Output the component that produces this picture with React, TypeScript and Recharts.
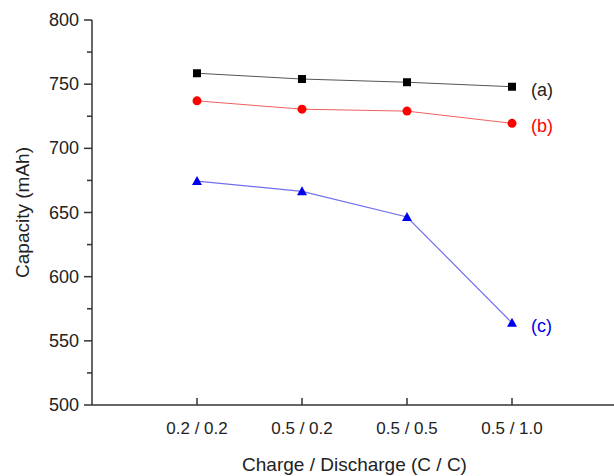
import { LineChart, Line, XAxis, YAxis, LabelList, Label } from 'recharts';

// rate categories (charge / discharge)
const rates = ['0.2 / 0.2', '0.5 / 0.2', '0.5 / 0.5', '0.5 / 1.0'];
const capA = [758.5, 754, 751.5, 748];
const capB = [737, 730.5, 729, 719.5];
const capC = [674.5, 666.5, 646.5, 564];
const seriesNames = ['(a)', '(b)', '(c)'];
const yTicks = [500, 525, 550, 575, 600, 625, 650, 675, 700, 725, 750, 775, 800];

const data = rates.map((r, i) => ({ pos: i + 1, rate: r, a: capA[i], b: capB[i], c: capC[i] }));

const FONT = '"Liberation Sans", Arial, sans-serif';
const AXIS_X = 92;
const AXIS_Y = 405;

// y ticks: long ones with labels every 50, short minor ones in between
const YTick = ({ y, payload }: any) => {
  const major = payload.value % 50 === 0;
  return (
    <g>
      <line x1={AXIS_X - (major ? 8 : 5)} x2={AXIS_X} y1={y} y2={y} stroke="#333" strokeWidth={1.5} />
      {major && (
        <text x={AXIS_X - 13} y={y} textAnchor="end" dominantBaseline="central" fontSize={18} fill="#222" fontFamily={FONT}>
          {payload.value}
        </text>
      )}
    </g>
  );
};

// x ticks point up into the plot
const XTick = ({ x, payload }: any) => (
  <g>
    <line x1={x} x2={x} y1={AXIS_Y} y2={AXIS_Y - 7} stroke="#333" strokeWidth={1.5} />
    <text x={x} y={AXIS_Y + 23} textAnchor="middle" dominantBaseline="central" fontSize={17} fill="#222" fontFamily={FONT}>
      {rates[payload.value - 1]}
    </text>
  </g>
);

const Triangle = ({ cx, cy }: any) => (
  <polygon points={`${cx},${cy - 5} ${cx - 5},${cy + 4} ${cx + 5},${cy + 4}`} fill="#0000ee" />
);
const Square = ({ cx, cy }: any) => <rect x={cx - 4} y={cy - 4} width={8} height={8} fill="#000" />;
const Dot = ({ cx, cy }: any) => <circle cx={cx} cy={cy} r={4.5} fill="#ff0000" />;

// series name next to the last point
const endLabel = (name: string, color: string) => (props: any) => {
  if (props.index !== rates.length - 1) return null;
  return (
    <text x={props.x + 19} y={props.y + 3} dominantBaseline="central" fontSize={18} fill={color} fontFamily={FONT}>
      {name}
    </text>
  );
};

export default function App() {
  return (
    <div style={{ position: 'absolute', left: 0, top: 0, width: 614, height: 476, overflow: 'hidden', background: '#fff' }}>
      <LineChart width={617} height={476} data={data} margin={{ top: 20, right: 0, left: 12, bottom: 0 }}>
        <XAxis
          dataKey="pos"
          type="number"
          domain={[0, 5]}
          ticks={[1, 2, 3, 4]}
          tick={<XTick />}
          tickLine={false}
          axisLine={{ stroke: '#333', strokeWidth: 1.5 }}
          height={71}
        >
          <Label value="Charge / Discharge (C / C)" position="insideBottom" offset={5} fontSize={19} fill="#222" fontFamily={FONT} />
        </XAxis>
        <XAxis
          xAxisId="top"
          orientation="top"
          dataKey="pos"
          type="number"
          domain={[0, 5]}
          tick={false}
          tickLine={false}
          axisLine={{ stroke: '#333', strokeWidth: 1.5 }}
          height={0}
        />
        <YAxis
          type="number"
          domain={[500, 800]}
          ticks={yTicks}
          interval={0}
          tick={<YTick />}
          tickLine={false}
          axisLine={{ stroke: '#333', strokeWidth: 1.5 }}
          width={80}
        >
          <Label value="Capacity (mAh)" angle={-90} position="insideLeft" offset={10} fontSize={19} fill="#222" fontFamily={FONT} style={{ textAnchor: 'middle' }} />
        </YAxis>
        <Line dataKey="a" stroke="#555" strokeWidth={1} dot={<Square />} isAnimationActive={false}>
          <LabelList dataKey="a" content={endLabel(seriesNames[0], '#222')} />
        </Line>
        <Line dataKey="b" stroke="#f06060" strokeWidth={1} dot={<Dot />} isAnimationActive={false}>
          <LabelList dataKey="b" content={endLabel(seriesNames[1], '#ff0000')} />
        </Line>
        <Line dataKey="c" stroke="#7070ee" strokeWidth={1.2} dot={<Triangle />} isAnimationActive={false}>
          <LabelList dataKey="c" content={endLabel(seriesNames[2], '#0000ee')} />
        </Line>
      </LineChart>
    </div>
  );
}
